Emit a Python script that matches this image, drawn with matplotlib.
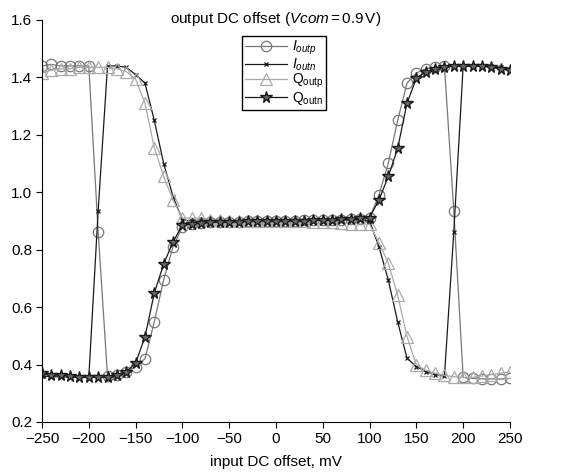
import numpy as np
import matplotlib
matplotlib.use('Agg')
import matplotlib.pyplot as plt

matplotlib.rcParams.update({'font.size': 11, 'font.family': 'Liberation Sans'})
matplotlib.rcParams['mathtext.fontset'] = 'custom'
matplotlib.rcParams['mathtext.rm'] = 'Liberation Sans'
matplotlib.rcParams['mathtext.it'] = 'Liberation Sans:italic'

# input DC offset, mV
offset = np.arange(-250, 251, 10)

i_outp = [1.44, 1.445, 1.44, 1.44, 1.44, 1.44, 0.863, 0.36, 0.362, 0.375,
          0.393, 0.42, 0.549, 0.695, 0.81, 0.88, 0.89, 0.893, 0.895, 0.897,
          0.898, 0.898, 0.899, 0.90, 0.90, 0.90, 0.90, 0.90, 0.902, 0.902,
          0.903, 0.905, 0.905, 0.907, 0.908, 0.91, 0.991, 1.101, 1.25, 1.38,
          1.415, 1.43, 1.435, 1.44, 0.935, 0.355, 0.352, 0.35, 0.35, 0.35,
          0.352]
i_outn = [0.36, 0.358, 0.357, 0.356, 0.355, 0.355, 0.935, 1.44, 1.44, 1.435,
          1.41, 1.38, 1.25, 1.10, 0.985, 0.904, 0.90, 0.90, 0.90, 0.90,
          0.90, 0.90, 0.90, 0.90, 0.90, 0.90, 0.90, 0.90, 0.90, 0.902,
          0.902, 0.903, 0.903, 0.904, 0.905, 0.90, 0.81, 0.695, 0.549, 0.422,
          0.393, 0.375, 0.365, 0.36, 0.863, 1.44, 1.44, 1.44, 1.44, 1.435,
          1.43]
q_outp = [1.415, 1.425, 1.43, 1.43, 1.435, 1.435, 1.435, 1.435, 1.43, 1.42,
          1.394, 1.31, 1.155, 1.055, 0.973, 0.91, 0.91, 0.91, 0.905, 0.903,
          0.90, 0.90, 0.90, 0.90, 0.90, 0.90, 0.90, 0.90, 0.899, 0.898,
          0.897, 0.895, 0.893, 0.89, 0.89, 0.888, 0.825, 0.753, 0.642, 0.497,
          0.399, 0.38, 0.37, 0.362, 0.358, 0.355, 0.355, 0.36, 0.365, 0.37,
          0.375]
q_outn = [0.37, 0.365, 0.362, 0.36, 0.358, 0.357, 0.356, 0.357, 0.362, 0.375,
          0.405, 0.496, 0.649, 0.75, 0.827, 0.886, 0.89, 0.892, 0.895, 0.896,
          0.897, 0.898, 0.899, 0.90, 0.90, 0.90, 0.90, 0.90, 0.901, 0.902,
          0.903, 0.905, 0.906, 0.908, 0.91, 0.912, 0.973, 1.055, 1.153, 1.31,
          1.397, 1.42, 1.43, 1.435, 1.44, 1.44, 1.44, 1.44, 1.435, 1.43,
          1.425]

fig = plt.figure(figsize=(5.66, 4.75), dpi=100)
ax = fig.add_axes([0.0742, 0.1116, 0.8268, 0.8464])

ax.plot(offset, i_outp, '-o', color='#777777', mfc='none', mec='#777777',
        ms=7.5, mew=0.9, lw=0.9, label=r'$I_{outp}$')
ax.plot(offset, i_outn, '-x', color='#1a1a1a', ms=3.5, mew=0.9, lw=0.9,
        label=r'$I_{outn}$')
ax.plot(offset, q_outp, '-^', color='#aaaaaa', mfc='none', mec='#aaaaaa',
        ms=8, mew=0.9, lw=0.9, label=r'$\mathrm{Q}_{\mathrm{outp}}$')
ax.plot(offset, q_outn, '-*', color='#1a1a1a', mfc='#666666', mec='#1a1a1a',
        ms=8.5, mew=1.0, lw=0.9, label=r'$\mathrm{Q}_{\mathrm{outn}}$')

ax.set_xlim([-250, 250])
ax.set_ylim([0.2, 1.6])
ax.set_xticks(np.arange(-250, 251, 50))
ax.set_yticks(np.arange(0.2, 1.61, 0.2))
ax.set_yticklabels(['{:.1f}'.format(v) for v in np.arange(0.2, 1.61, 0.2)])
ax.spines['top'].set_visible(False)
ax.spines['right'].set_visible(False)
ax.tick_params(direction='out', length=4, width=0.8, pad=3)
ax.set_xlabel('input DC offset, mV', labelpad=7)
ax.set_title(r'output DC offset ($Vcom$$\,$=$\,$0.9$\,$V)', fontsize=11,
             y=0.992, pad=0)

leg = ax.legend(loc='upper left', bbox_to_anchor=(0.428, 0.96), fancybox=False,
                framealpha=1, edgecolor='black', handlelength=3.0,
                borderpad=0.2, labelspacing=-0.05, handletextpad=0.35,
                borderaxespad=0, fontsize=10)
leg.get_frame().set_linewidth(1.0)

fig.savefig('out.png', dpi=100)
plt.close()
